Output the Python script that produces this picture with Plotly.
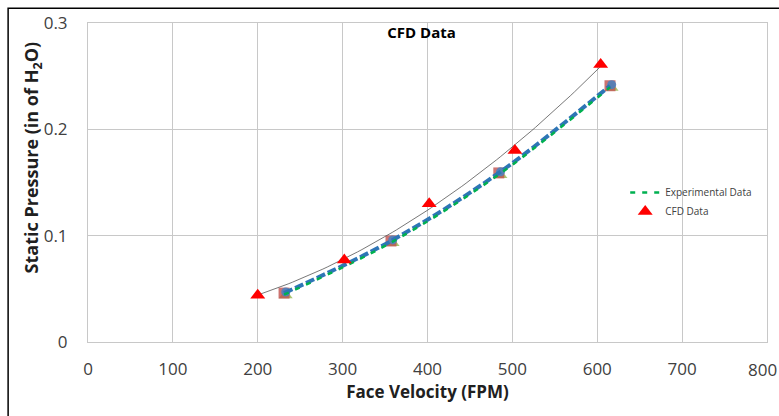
import numpy as np
import plotly.graph_objects as go

# Data
exp_velocity = [231, 357, 484, 615]
exp_pressure = [0.046, 0.095, 0.159, 0.241]

cfd_velocity = [200, 302, 402, 503, 604]
cfd_pressure = [0.044, 0.077, 0.130, 0.180, 0.261]

x_ticks = [0, 100, 200, 300, 400, 500, 600, 700, 800]
y_ticks = [0, 0.1, 0.2, 0.3]
y_tick_text = ["0", "0.1", "0.2", "0.3"]

FONT = "Open Sans"

# polynomial trendline of the CFD data (as in the spreadsheet chart)
coef = np.polyfit(cfd_velocity, cfd_pressure, 2)
trend_x = np.linspace(min(cfd_velocity), max(cfd_velocity), 80)
trend_y = np.polyval(coef, trend_x)

fig = go.Figure()

# experimental markers (several overlapping series)
fig.add_trace(go.Scatter(x=[v + 2 for v in exp_velocity], y=[p - 0.002 for p in exp_pressure],
                         mode="markers", showlegend=False,
                         marker=dict(symbol="triangle-up", size=12, color="rgba(155,187,89,0.85)")))
fig.add_trace(go.Scatter(x=exp_velocity, y=exp_pressure, mode="markers", showlegend=False,
                         marker=dict(symbol="square", size=11, color="rgba(192,80,77,0.8)")))
fig.add_trace(go.Scatter(x=[v + 2 for v in exp_velocity], y=[p + 0.001 for p in exp_pressure],
                         mode="markers", showlegend=False,
                         marker=dict(symbol="circle", size=9, color="rgba(79,129,189,0.9)")))

# CFD trendline
fig.add_trace(go.Scatter(x=trend_x, y=trend_y, mode="lines", showlegend=False,
                         line=dict(color="#555555", width=0.8)))

# experimental dashed lines
fig.add_trace(go.Scatter(x=exp_velocity, y=exp_pressure, mode="lines", showlegend=False,
                         line=dict(color="#2E75B6", width=4, dash="9px,3px", shape="spline")))
fig.add_trace(go.Scatter(x=exp_velocity, y=[p - 0.0015 for p in exp_pressure], mode="lines",
                         name="Experimental Data",
                         line=dict(color="#00B050", width=2.5, dash="5px,7px", shape="spline")))

# CFD markers
fig.add_trace(go.Scatter(x=cfd_velocity, y=cfd_pressure, mode="markers", name="CFD Data",
                         marker=dict(symbol="triangle-up", size=13, color="#FF0000")))

grid = "#C8C8C8"
fig.update_layout(
    width=779, height=416,
    margin=dict(l=88, r=11, t=19, b=74),
    paper_bgcolor="white", plot_bgcolor="white",
    font=dict(family=FONT, color="#404040"),
    title=dict(text="<b>CFD Data</b>", x=(422 - 88) / 680, xref="paper", xanchor="center",
               y=1 - 33 / 416, yanchor="middle",
               font=dict(family=FONT, size=15, color="#000000")),
    xaxis=dict(range=[0, 800], tickvals=x_ticks[:-1], showgrid=True, gridcolor=grid, gridwidth=1,
               showline=True, linecolor=grid, mirror=True, zeroline=False, ticks="",
               tickfont=dict(size=17, color="#404040"), ticklabelstandoff=12,
               title=dict(text="<b>Face Velocity (FPM)</b>", standoff=4,
                          font=dict(size=17, color="#202020"))),
    yaxis=dict(range=[0, 0.3], tickvals=y_ticks, ticktext=y_tick_text, showgrid=True,
               gridcolor=grid, gridwidth=1, showline=True, linecolor=grid, mirror=True,
               zeroline=False, ticks="", tickfont=dict(size=17, color="#404040"),
               ticklabelstandoff=16),
    legend=dict(x=(626 - 88) / 680, y=(342 - 176) / 323, xanchor="left", yanchor="top",
                bgcolor="rgba(0,0,0,0)", font=dict(size=10, color="#404040"),
                tracegroupgap=0, itemwidth=30),
    showlegend=True,
)

# y axis title, placed as in the reference (slightly above the plot's centre)
fig.add_annotation(x=(32 - 88) / 680, y=(342 - 156) / 323, xref="paper", yref="paper",
                   text="<b>Static Pressure (in of H<sub>2</sub>O)</b>", textangle=-90,
                   showarrow=False, xanchor="center", yanchor="middle",
                   font=dict(family=FONT, size=18, color="#202020"))

# last x tick label at the chart edge
fig.add_annotation(x=x_ticks[-1], y=0, xref="x", yref="y", text=str(x_ticks[-1]),
                   showarrow=False, yanchor="top", yshift=-14, xshift=-5,
                   font=dict(family=FONT, size=17, color="#404040"))

# outer chart frame (left and top edges visible)
fig.add_shape(type="rect", xref="paper", yref="paper",
              x0=(8 - 88) / 680, x1=(820 - 88) / 680,
              y0=(342 - 440) / 323, y1=(342 - 4) / 323,
              line=dict(color="#000000", width=1.5), layer="below")

fig.write_html("out.html")
